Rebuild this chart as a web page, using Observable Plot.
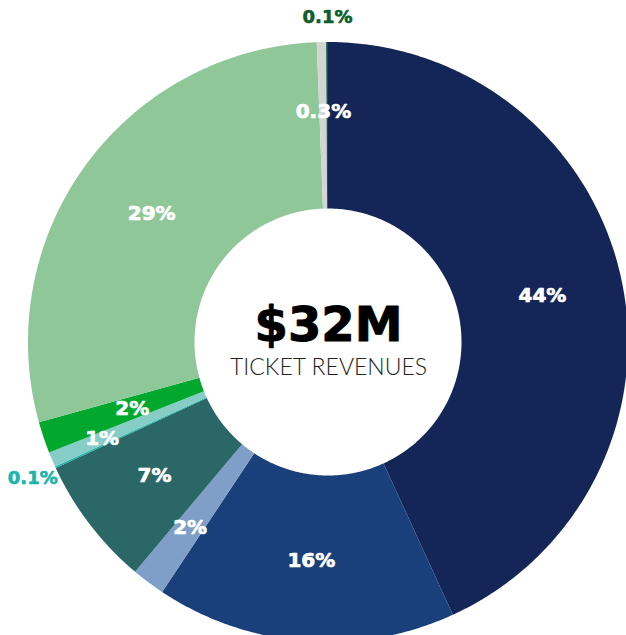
<!DOCTYPE html>
<html>
<head>
<meta charset="utf-8">
<script src="https://cdn.jsdelivr.net/npm/d3@7"></script>
<script src="https://cdn.jsdelivr.net/npm/@observablehq/plot@0.6"></script>
<style>
  html, body { margin: 0; padding: 0; background: #ffffff; }
</style>
</head>
<body>
<div id="chart"></div>
<script>
// ---- data (clockwise from 12 o'clock) ----
const categories = ["s1", "s2", "s3", "s4", "s5", "s6", "s7", "s8", "s9", "s10"];
const shares     = [43.3, 16.2, 1.8, 7.0, 0.1, 0.8, 1.7, 28.8, 0.5, 0.1];
const labels     = ["44%", "16%", "2%", "7%", "0.1%", "1%", "2%", "29%", "0.3%", "0.1%"];
const colors     = ["#142657", "#1a407c", "#7f9ec8", "#2a6766", "#1bb3ac",
                    "#85cdc6", "#02a82e", "#8fc799", "#d4d4d4", "#0b5e2e"];
const centerValue = "$32M";
const centerLabel = "TICKET REVENUES";

// ---- layout ----
const W = 626, H = 635;
const cx = 328, cy = 342, Rpx = 300;   // pie centre and outer radius in pixels
const inner = 0.445;                    // inner radius relative to outer

// ---- geometry built from the data ----
const total = d3.sum(shares);
const rows = [];
const labelRows = [];
let acc = 0, prevSmall = false, flip = false;
shares.forEach((v, i) => {
  const a0 = acc / total * 2 * Math.PI;
  acc += v;
  const a1 = acc / total * 2 * Math.PI;
  const n = Math.max(2, Math.ceil((a1 - a0) / (Math.PI / 360)));
  for (let k = 0; k <= n; k++) {
    const a = a0 + (a1 - a0) * k / n;
    rows.push({
      id: categories[i],
      x1: Math.sin(a), y1: Math.cos(a),
      x2: inner * Math.sin(a), y2: inner * Math.cos(a)
    });
  }
  const mid = (a0 + a1) / 2;
  const small = v < 3;
  const out = v < 0.2;
  let r = 0.73;
  if (out) r = 1.085;
  else if (small && prevSmall) { flip = !flip; r = flip ? 0.82 : 0.69; }
  else if (small) r = 0.77;
  prevSmall = small;
  labelRows.push({id: categories[i], text: labels[i], out, x: r * Math.sin(mid), y: r * Math.cos(mid)});
});

const font = "'DejaVu Sans', sans-serif";

const chart = Plot.plot({
  width: W,
  height: H,
  margin: 0,
  style: {background: "#ffffff"},
  x: {type: "linear", domain: [-cx / Rpx, (W - cx) / Rpx], axis: null},
  y: {type: "linear", domain: [-(H - cy) / Rpx, cy / Rpx], axis: null},
  color: {type: "ordinal", domain: categories, range: colors, legend: false},
  marks: [
    Plot.area(rows, {x1: "x1", y1: "y1", x2: "x2", y2: "y2", z: "id", fill: "id", curve: "linear"}),
    Plot.text(labelRows.filter(d => !d.out), {
      x: "x", y: "y", text: "text", fill: "#ffffff", stroke: "#ffffff", strokeWidth: 0.7,
      fontSize: 20, fontWeight: "bold", fontFamily: font, textAnchor: "middle", lineAnchor: "middle"
    }),
    Plot.text(labelRows.filter(d => d.out), {
      x: "x", y: "y", text: "text", fill: "id", stroke: "id", strokeWidth: 0.6,
      fontSize: 18, fontWeight: "bold", fontFamily: font, textAnchor: "middle", lineAnchor: "middle"
    }),
    Plot.text([centerValue], {
      x: () => 0, y: () => 0, text: d => d, dy: -17, fill: "#000000", stroke: "#000000", strokeWidth: 1,
      fontSize: 48, fontWeight: "bold", fontFamily: font, textAnchor: "middle", lineAnchor: "middle"
    }),
    Plot.text([centerLabel], {
      x: () => 0, y: () => 0, text: d => d, dy: 25, fill: "#222222",
      fontSize: 23, fontWeight: 300, fontFamily: "Lato, 'Open Sans', sans-serif", textAnchor: "middle", lineAnchor: "middle"
    })
  ]
});
document.getElementById("chart").appendChild(chart);
</script>
</body>
</html>
